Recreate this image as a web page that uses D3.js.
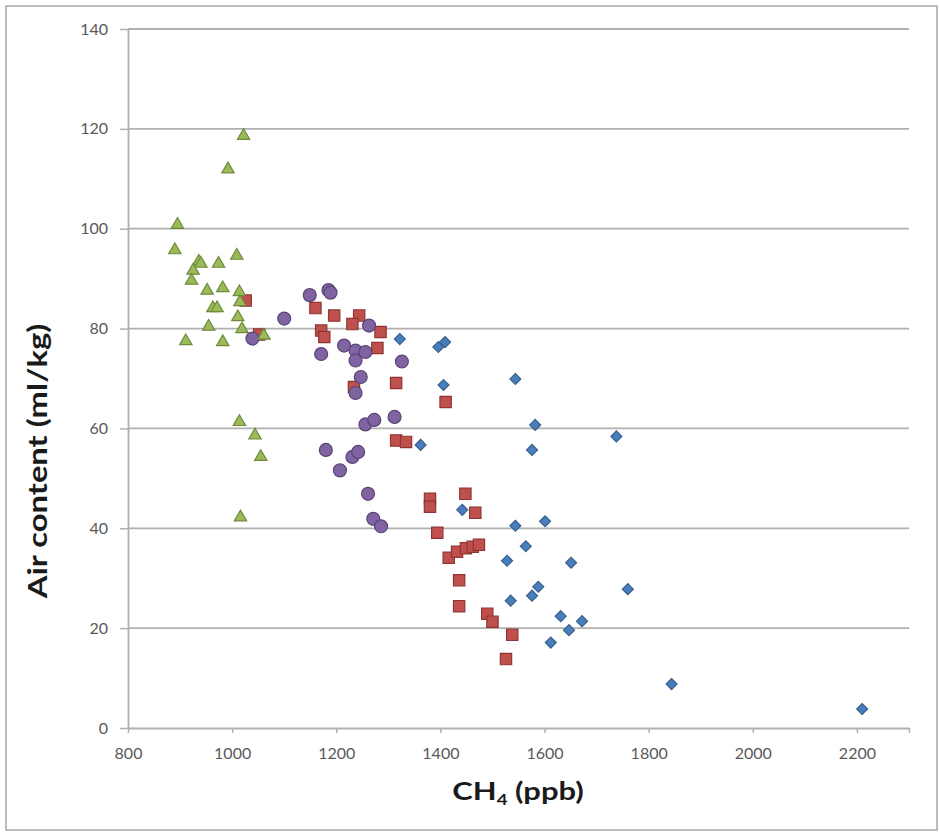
<!DOCTYPE html>
<html>
<head>
<meta charset="utf-8">
<script src="https://cdn.jsdelivr.net/npm/d3@7"></script>
<style>
  body { margin: 0; background: #fff; }
  svg { display: block; }
  .tick text { font-family: Lato, "Open Sans", sans-serif; font-size: 16px; fill: #595959; }
  .axis-title { font-family: Lato, "Open Sans", sans-serif; font-weight: bold; fill: #1a1a1a; }
</style>
</head>
<body>
<svg width="939" height="833"></svg>
<script>
// CH4 (ppb) vs air content (ml/kg), four series
let blueCH4 = [1322, 1396, 1409, 1406, 1544, 1582, 1576, 1738, 1362, 1442, 1544, 1601, 1564, 1528, 1651, 1760, 1588, 1576, 1535, 1631, 1672, 1647, 1612, 1844, 2210];
let blueAir = [77.9, 76.3, 77.3, 68.7, 69.9, 60.7, 55.7, 58.4, 56.7, 43.7, 40.5, 41.4, 36.4, 33.5, 33.1, 27.8, 28.3, 26.5, 25.5, 22.4, 21.4, 19.6, 17.1, 8.8, 3.8];

let redCH4 = [1026, 1052, 1160, 1196, 1244, 1231, 1171, 1177, 1285, 1279, 1234, 1315, 1410, 1315, 1334, 1380, 1380, 1448, 1467, 1394, 1416, 1432, 1449, 1462, 1474, 1436, 1436, 1490, 1500, 1538, 1526];
let redAir = [85.6, 78.8, 84.1, 82.6, 82.6, 80.9, 79.6, 78.3, 79.3, 76.1, 68.3, 69.1, 65.3, 57.6, 57.3, 45.9, 44.3, 46.9, 43.1, 39.1, 34.1, 35.3, 36.0, 36.3, 36.7, 29.6, 24.4, 22.9, 21.3, 18.7, 13.8];

let purpleCH4 = [1039, 1100, 1149, 1185, 1189, 1263, 1215, 1171, 1237, 1256, 1237, 1326, 1247, 1237, 1312, 1256, 1273, 1180, 1231, 1242, 1207, 1261, 1271, 1286];
let purpleAir = [78.0, 82.0, 86.7, 87.7, 87.2, 80.6, 76.6, 74.9, 75.6, 75.3, 73.6, 73.4, 70.3, 67.1, 62.3, 60.8, 61.7, 55.7, 54.3, 55.3, 51.6, 46.9, 41.9, 40.4];

let greenCH4 = [1022, 992, 895, 890, 936, 940, 974, 1009, 925, 922, 952, 982, 1014, 1015, 963, 971, 1011, 955, 1019, 1061, 911, 982, 1014, 1044, 1055, 1016];
let greenAir = [118.6, 111.9, 100.8, 95.7, 93.4, 93.0, 93.0, 94.6, 91.6, 89.6, 87.6, 88.1, 87.3, 85.3, 84.1, 84.1, 82.3, 80.4, 79.9, 78.6, 77.5, 77.3, 61.3, 58.6, 54.3, 42.2];

let xTicks = [800, 1000, 1200, 1400, 1600, 1800, 2000, 2200];
let yTicks = [0, 20, 40, 60, 80, 100, 120, 140];

// Set up layout
let svg = d3.select("svg");
let plotLeft = 128, plotRight = 909, plotTop = 29, plotBottom = 728;
let gray = "#b0b0b0";

svg.append("rect")
    .attr("x", 6).attr("y", 6)
    .attr("width", 931).attr("height", 824)
    .attr("fill", "#fff")
    .attr("stroke", "#a6a6a6")
    .attr("stroke-width", 1.5);

let xScale = d3.scaleLinear().domain([800, 2300]).range([plotLeft, plotRight]);
let yScale = d3.scaleLinear().domain([0, 140]).range([plotBottom, plotTop]);

// Gridlines
svg.append("g")
    .selectAll("line")
    .data(yTicks.slice(1))
    .enter().append("line")
    .attr("x1", plotLeft).attr("x2", plotRight)
    .attr("y1", function(d) { return yScale(d); })
    .attr("y2", function(d) { return yScale(d); })
    .attr("stroke", gray)
    .attr("stroke-width", 1.8);

// Axes
let yAxis = svg.append("g")
    .attr("transform", "translate(" + plotLeft + ",0)")
    .call(d3.axisLeft(yScale).tickValues(yTicks).tickSize(8).tickSizeOuter(0).tickPadding(12));

let xAxis = svg.append("g")
    .attr("transform", "translate(0," + plotBottom + ")")
    .call(d3.axisBottom(xScale).tickValues(xTicks.concat([2300])).tickSize(5).tickSizeOuter(0).tickPadding(15)
        .tickFormat(function(d) { return d === 2300 ? "" : d; }));

[xAxis, yAxis].forEach(function(a) {
    a.select(".domain").attr("stroke", gray).attr("stroke-width", 1.8);
    a.selectAll(".tick line").attr("stroke", gray).attr("stroke-width", 1.5);
});

// Axis titles
svg.append("text")
    .attr("class", "axis-title")
    .attr("transform", "translate(47,461) rotate(-90) scale(1.26,1)")
    .attr("text-anchor", "middle")
    .style("font-size", "26px")
    .text("Air content (ml/kg)");

let xTitle = svg.append("text")
    .attr("class", "axis-title")
    .attr("transform", "translate(518,800) scale(1.24,1)")
    .attr("text-anchor", "middle")
    .style("font-size", "25px");
xTitle.append("tspan").text("CH");
xTitle.append("tspan").attr("dy", 5).style("font-size", "15px").text("4");
xTitle.append("tspan").attr("dy", -5).text(" (ppb)");

// Markers
let series = [
    { x: blueCH4, y: blueAir, fill: "#4a7ebb", stroke: "#36608f", shape: "diamond" },
    { x: redCH4, y: redAir, fill: "#c0504d", stroke: "#8f3634", shape: "square" },
    { x: purpleCH4, y: purpleAir, fill: "#8064a2", stroke: "#5b4578", shape: "circle" },
    { x: greenCH4, y: greenAir, fill: "#9bbb59", stroke: "#6f8a3c", shape: "triangle" }
];

let symbols = {
    diamond: d3.symbol().type(d3.symbolSquare).size(60),
    square: d3.symbol().type(d3.symbolSquare).size(128),
    circle: d3.symbol().type(d3.symbolCircle).size(132),
    triangle: d3.symbol().type(d3.symbolTriangle).size(66)
};

series.forEach(function(s) {
    let pts = s.x.map(function(v, i) { return [v, s.y[i]]; });
    svg.append("g")
        .selectAll("path")
        .data(pts)
        .enter().append("path")
        .attr("d", symbols[s.shape]())
        .attr("transform", function(d) {
            return "translate(" + xScale(d[0]) + "," + yScale(d[1]) + ")" + (s.shape === "diamond" ? " rotate(45)" : "");
        })
        .attr("fill", s.fill)
        .attr("stroke", s.stroke)
        .attr("stroke-width", 1.2);
});
</script>
</body>
</html>
